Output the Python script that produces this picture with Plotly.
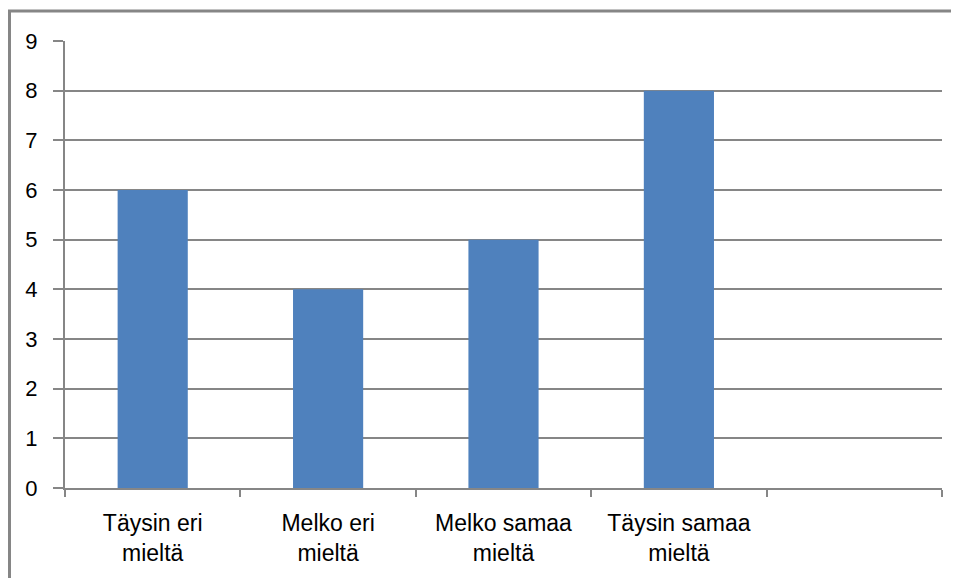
import plotly.graph_objects as go

categories = ["Täysin eri<br>mieltä", "Melko eri<br>mieltä", "Melko samaa<br>mieltä", "Täysin samaa<br>mieltä", " "]
values = [6, 4, 5, 8, None]
y_ticks = list(range(0, 10))

W, H = 959, 578
OFF = 8  # page body margin offset
# target plot area in screen pixels: x 65..942, y 41..488
L = 65 - OFF
T = 41 - OFF
R = W - (942 - OFF)
B = H - (488 - OFF)
pw, ph = W - L - R, H - T - B

def px_x(sx):
    return (sx - OFF - L) / pw

def px_y(sy):
    return (H - B - (sy - OFF)) / ph

GRAY = "#868686"

fig = go.Figure(go.Bar(x=categories, y=values, marker=dict(color="#4F81BD", line=dict(width=0)), width=0.4))

fig.update_layout(
    width=W, height=H,
    margin=dict(l=L, r=R, t=T, b=B),
    paper_bgcolor="white", plot_bgcolor="white",
    showlegend=False,
    font=dict(family="Liberation Sans", size=22, color="#000000"),
    xaxis=dict(
        type="category", categoryorder="array", categoryarray=categories,
        tickson="boundaries", ticks="outside", ticklen=7, tickwidth=1.5, tickcolor=GRAY,
        showline=True, linecolor=GRAY, linewidth=2, showgrid=False,
        tickfont=dict(size=23), ticklabelstandoff=13, automargin=False,
        range=[-0.5, 4.5],
    ),
    yaxis=dict(
        range=[0, 9], tickvals=y_ticks, ticktext=[str(v) for v in y_ticks],
        ticks="outside", ticklen=10, tickwidth=1.5, tickcolor=GRAY,
        showline=True, linecolor=GRAY, linewidth=2,
        showgrid=True, gridcolor=GRAY, gridwidth=1.5,
        zeroline=False, tickfont=dict(size=22), ticklabelstandoff=11, automargin=False,
    ),
    shapes=[
        dict(type="line", xref="paper", yref="paper", x0=px_x(9.5), x1=px_x(9.5), y0=px_y(620), y1=px_y(11),
             line=dict(color=GRAY, width=3)),
        dict(type="line", xref="paper", yref="paper", x0=px_x(8), x1=px_x(990), y0=px_y(11), y1=px_y(11),
             line=dict(color=GRAY, width=3)),
    ],
)

fig.write_html("out.html")
